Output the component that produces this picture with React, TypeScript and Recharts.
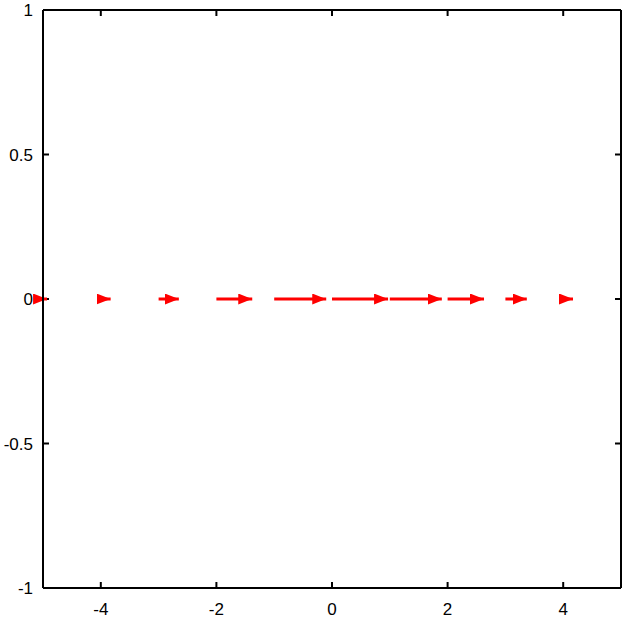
import { ComposedChart, Line, XAxis, YAxis, ReferenceLine } from 'recharts';

// arrow start points (all on y = 0) and their x-lengths
const arrowX = [-5, -4, -3, -2, -1, 0, 1, 2, 3, 4];
const arrowDx = [0.07, 0.17, 0.35, 0.62, 0.9, 0.97, 0.9, 0.63, 0.37, 0.17];

const xTicks = [-4, -2, 0, 2, 4];
const yTicks = [-1, -0.5, 0, 0.5, 1];

const arrows = arrowX.map((x, i) => [
  { x, y: 0 },
  { x: x + arrowDx[i], y: 0 },
]);

const font = { fill: '#000', fontSize: 17, fontFamily: '"Liberation Sans", Arial, sans-serif' };
const frame = { stroke: '#000', strokeWidth: 2 };
const TICK = 6;

// short inward marks at both ends of a reference line (gnuplot style ticks)
const vTicks = (p: any) => (
  <g stroke="#000" strokeWidth={2}>
    <line x1={p.x1} x2={p.x1} y1={p.y1} y2={p.y1 + (p.y2 > p.y1 ? TICK : -TICK)} />
    <line x1={p.x2} x2={p.x2} y1={p.y2} y2={p.y2 + (p.y2 > p.y1 ? -TICK : TICK)} />
  </g>
);
const hTicks = (p: any) => (
  <g stroke="#000" strokeWidth={2}>
    <line y1={p.y1} y2={p.y1} x1={p.x1} x2={p.x1 + (p.x2 > p.x1 ? TICK : -TICK)} />
    <line y1={p.y2} y2={p.y2} x1={p.x2} x2={p.x2 + (p.x2 > p.x1 ? -TICK : TICK)} />
  </g>
);

export default function App() {
  return (
    <div style={{ position: 'absolute', left: 0, top: 0 }}>
      <ComposedChart width={624} height={621} margin={{ top: 10, right: 3, bottom: 0, left: 0 }}>
        <defs>
          <marker
            id="head"
            markerUnits="userSpaceOnUse"
            markerWidth={14}
            markerHeight={11}
            refX={14}
            refY={5.5}
            orient="auto"
          >
            <path d="M0,0 L14,5.5 L0,11 z" fill="#ff0000" />
          </marker>
        </defs>
        <XAxis
          xAxisId="b"
          type="number"
          dataKey="x"
          domain={[-5, 5]}
          ticks={xTicks}
          height={33}
          axisLine={frame}
          tickLine={false}
          tickSize={0}
          tickMargin={15}
          tick={font}
        />
        <YAxis
          yAxisId="l"
          type="number"
          dataKey="y"
          domain={[-1, 1]}
          ticks={yTicks}
          width={43}
          axisLine={frame}
          tickLine={false}
          tickSize={0}
          tickMargin={10}
          tick={font}
        />
        {/* top and right frame */}
        <XAxis
          xAxisId="t"
          orientation="top"
          mirror
          type="number"
          domain={[-5, 5]}
          axisLine={frame}
          tickLine={false}
          tick={false}
        />
        <YAxis
          yAxisId="r"
          orientation="right"
          mirror
          type="number"
          domain={[-1, 1]}
          axisLine={frame}
          tickLine={false}
          tick={false}
        />
        {xTicks.map((t) => (
          <ReferenceLine key={'x' + t} xAxisId="b" yAxisId="l" x={t} shape={vTicks} />
        ))}
        {yTicks.map((t) => (
          <ReferenceLine key={'y' + t} xAxisId="b" yAxisId="l" y={t} shape={hTicks} />
        ))}
        {arrows.map((d, i) => (
          <Line
            key={i}
            xAxisId="b"
            yAxisId="l"
            data={d}
            dataKey="y"
            stroke="#ff0000"
            strokeWidth={3}
            dot={false}
            activeDot={false}
            markerEnd="url(#head)"
            isAnimationActive={false}
          />
        ))}
      </ComposedChart>
    </div>
  );
}
